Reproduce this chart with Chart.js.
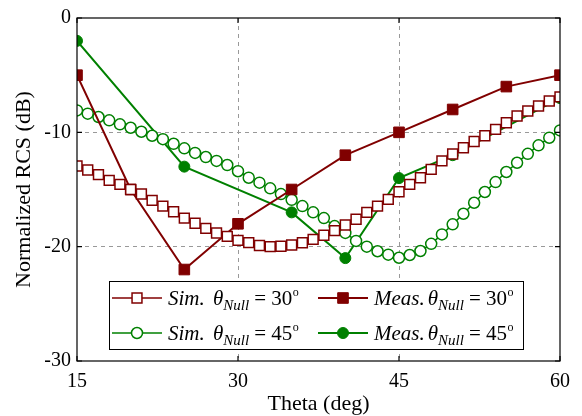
<!DOCTYPE html>
<html>
<head>
<meta charset="utf-8">
<script src="https://cdn.jsdelivr.net/npm/chart.js@4.4.1/dist/chart.umd.min.js"></script>
<style>
  body { margin: 0; background: #fff; }
  #wrap { width: 582px; height: 416px; }
</style>
</head>
<body>
<div id="wrap"><canvas id="rcsChart" width="582" height="416"></canvas></div>
<script>
// simulated curves, 1 deg steps
const thetaSim = [15, 16, 17, 18, 19, 20, 21, 22, 23, 24, 25, 26, 27, 28, 29, 30,
                  31, 32, 33, 34, 35, 36, 37, 38, 39, 40, 41, 42, 43, 44, 45,
                  46, 47, 48, 49, 50, 51, 52, 53, 54, 55, 56, 57, 58, 59, 60];
const sim30 = [-12.95, -13.3, -13.7, -14.2, -14.55, -15.0, -15.4, -15.95, -16.45, -16.95, -17.5, -17.95, -18.4, -18.8, -19.1, -19.45,
               -19.65, -19.9, -20.0, -19.97, -19.86, -19.66, -19.36, -19.0, -18.6, -18.1, -17.6, -17.0, -16.45, -15.86, -15.2,
               -14.55, -13.97, -13.24, -12.5, -11.9, -11.35, -10.8, -10.3, -9.74, -9.16, -8.57, -8.14, -7.7, -7.26, -6.9];
const sim45 = [-8.08, -8.37, -8.66, -8.95, -9.3, -9.6, -9.95, -10.3, -10.6, -11.0, -11.4, -11.8, -12.16, -12.5, -12.86, -13.4,
               -13.97, -14.4, -14.9, -15.4, -15.9, -16.45, -17.0, -17.5, -18.2, -18.8, -19.5, -20.0, -20.4, -20.7, -20.97,
               -20.73, -20.38, -19.75, -18.93, -18.05, -17.12, -16.16, -15.22, -14.35, -13.47, -12.66, -11.88, -11.14, -10.47, -9.83];

// measured
const thetaMeas30 = [15, 20, 25, 30, 35, 40, 45, 50, 55, 60];
const meas30 = [-5, -15, -22, -18, -15, -12, -10, -8, -6, -5];
const thetaMeas45 = [15, 25, 35, 40, 45, 50, 60];
const meas45 = [-2, -13, -17, -21, -14, -12, -7];

const xTicks = [15, 30, 45, 60];
const yTicks = [0, -10, -20, -30];

const legendWords = ['Sim. ', 'Meas.', 'Sim. ', 'Meas.'];
const legendAngles = ['30', '30', '45', '45'];

const red = '#800000';
const green = '#008000';
const serif = '"Liberation Serif", "Times New Roman", serif';

function pts(xs, ys) {
    return xs.map((x, i) => ({ x: x, y: ys[i] }));
}

function marker(ctx, style, x, y, r, fill, stroke, lw) {
    ctx.beginPath();
    if (style === 'rect') {
        var s = Math.SQRT1_2 * r;
        ctx.rect(x - s, y - s, 2 * s, 2 * s);
    } else {
        ctx.arc(x, y, r, 0, Math.PI * 2);
    }
    ctx.fillStyle = fill;
    ctx.fill();
    ctx.lineWidth = lw;
    ctx.strokeStyle = stroke;
    ctx.stroke();
}

// frame, inward ticks and the legend box
const framePlugin = {
    id: 'frame',
    afterDraw(chart) {
        const ctx = chart.ctx;
        const a = chart.chartArea;
        const xs = chart.scales.x, ys = chart.scales.y;
        ctx.save();
        ctx.strokeStyle = '#000';
        ctx.lineWidth = 1.2;
        ctx.strokeRect(a.left, a.top, a.right - a.left, a.bottom - a.top);
        ctx.beginPath();
        xTicks.forEach(t => {
            var px = xs.getPixelForValue(t);
            ctx.moveTo(px, a.bottom); ctx.lineTo(px, a.bottom - 5);
            ctx.moveTo(px, a.top); ctx.lineTo(px, a.top + 5);
        });
        yTicks.forEach(t => {
            var py = ys.getPixelForValue(t);
            ctx.moveTo(a.left, py); ctx.lineTo(a.left + 5, py);
            ctx.moveTo(a.right, py); ctx.lineTo(a.right - 5, py);
        });
        ctx.stroke();

        // legend
        var bx = 109, by = 281, bw = 414, bh = 68;
        ctx.fillStyle = '#fff';
        ctx.fillRect(bx, by, bw, bh);
        ctx.lineWidth = 1;
        ctx.strokeStyle = '#000';
        ctx.strokeRect(bx + 0.5, by + 0.5, bw, bh);

        var cols = [112, 318];
        var rows = [298, 333];
        chart.data.datasets.forEach((ds, i) => {
            var cx = cols[i % 2], cy = rows[Math.floor(i / 2)];
            ctx.beginPath();
            ctx.moveTo(cx, cy); ctx.lineTo(cx + 50, cy);
            ctx.lineWidth = ds.borderWidth;
            ctx.strokeStyle = ds.borderColor;
            ctx.stroke();
            marker(ctx, ds.pointStyle, cx + 25, cy, ds.pointRadius, ds.pointBackgroundColor, ds.borderColor, ds.pointBorderWidth);

            var x = cx + 56, yb = cy + 7;
            ctx.fillStyle = '#000';
            ctx.textBaseline = 'alphabetic';
            ctx.textAlign = 'left';
            ctx.font = 'italic 21px ' + serif;
            ctx.fillText(legendWords[i], x, yb);
            x += ctx.measureText(legendWords[i]).width + 3;
            ctx.fillText('θ', x, yb);
            x += ctx.measureText('θ').width;
            ctx.font = 'italic 15px ' + serif;
            ctx.fillText('Null', x, yb + 5);
            x += ctx.measureText('Null').width + 5;
            ctx.font = '21px ' + serif;
            var eq = '= ' + legendAngles[i];
            ctx.fillText(eq, x, yb);
            x += ctx.measureText(eq).width + 0.5;
            ctx.font = '12px ' + serif;
            ctx.fillText('o', x, yb - 9);
        });
        ctx.restore();
    }
};

const ctx = document.getElementById('rcsChart').getContext('2d');
new Chart(ctx, {
    type: 'line',
    data: {
        datasets: [
            {
                label: 'Sim. θNull = 30º',
                data: pts(thetaSim, sim30),
                borderColor: red,
                borderWidth: 1.5,
                pointStyle: 'rect',
                pointRadius: 7,
                pointBorderWidth: 1.5,
                pointBackgroundColor: '#fff',
                pointBorderColor: red
            },
            {
                label: 'Meas. θNull = 30º',
                data: pts(thetaMeas30, meas30),
                borderColor: red,
                borderWidth: 2,
                pointStyle: 'rect',
                pointRadius: 7.5,
                pointBorderWidth: 1,
                pointBackgroundColor: red,
                pointBorderColor: red
            },
            {
                label: 'Sim. θNull = 45º',
                data: pts(thetaSim, sim45),
                borderColor: green,
                borderWidth: 1.5,
                pointStyle: 'circle',
                pointRadius: 5.5,
                pointBorderWidth: 1.5,
                pointBackgroundColor: '#fff',
                pointBorderColor: green
            },
            {
                label: 'Meas. θNull = 45º',
                data: pts(thetaMeas45, meas45),
                borderColor: green,
                borderWidth: 2,
                pointStyle: 'circle',
                pointRadius: 5.5,
                pointBorderWidth: 1,
                pointBackgroundColor: green,
                pointBorderColor: green
            }
        ]
    },
    options: {
        responsive: false,
        animation: false,
        layout: { padding: { left: 0, right: 22, top: 15, bottom: 0 } },
        plugins: {
            legend: { display: false },
            tooltip: { enabled: false }
        },
        scales: {
            x: {
                type: 'linear',
                min: 15,
                max: 60,
                afterBuildTicks: s => { s.ticks = xTicks.map(v => ({ value: v })); },
                afterFit: s => { s.height = 55; },
                ticks: { color: '#000', padding: 9, font: { family: serif, size: 20 } },
                grid: {
                    drawTicks: false,
                    color: c => (c.tick && (c.tick.value === 15 || c.tick.value === 60)) ? 'rgba(0,0,0,0)' : '#999',
                    lineWidth: 1
                },
                border: { display: false, dash: [4, 4] },
                title: {
                    display: true,
                    text: 'Theta (deg)',
                    color: '#000',
                    font: { family: serif, size: 22, lineHeight: 1.1 },
                    padding: { top: 0, bottom: 0 }
                }
            },
            y: {
                min: -30,
                max: 0,
                afterBuildTicks: s => { s.ticks = yTicks.map(v => ({ value: v })); },
                afterFit: s => { s.width = 77; },
                ticks: { color: '#000', padding: 6, font: { family: serif, size: 20 } },
                grid: {
                    drawTicks: false,
                    color: c => (c.tick && (c.tick.value === 0 || c.tick.value === -30)) ? 'rgba(0,0,0,0)' : '#999',
                    lineWidth: 1
                },
                border: { display: false, dash: [4, 4] },
                title: {
                    display: true,
                    text: 'Normalized RCS (dB)',
                    color: '#000',
                    font: { family: serif, size: 22, lineHeight: 1.1 },
                    padding: { top: 12, bottom: 0 }
                }
            }
        }
    },
    plugins: [framePlugin]
});
</script>
</body>
</html>
